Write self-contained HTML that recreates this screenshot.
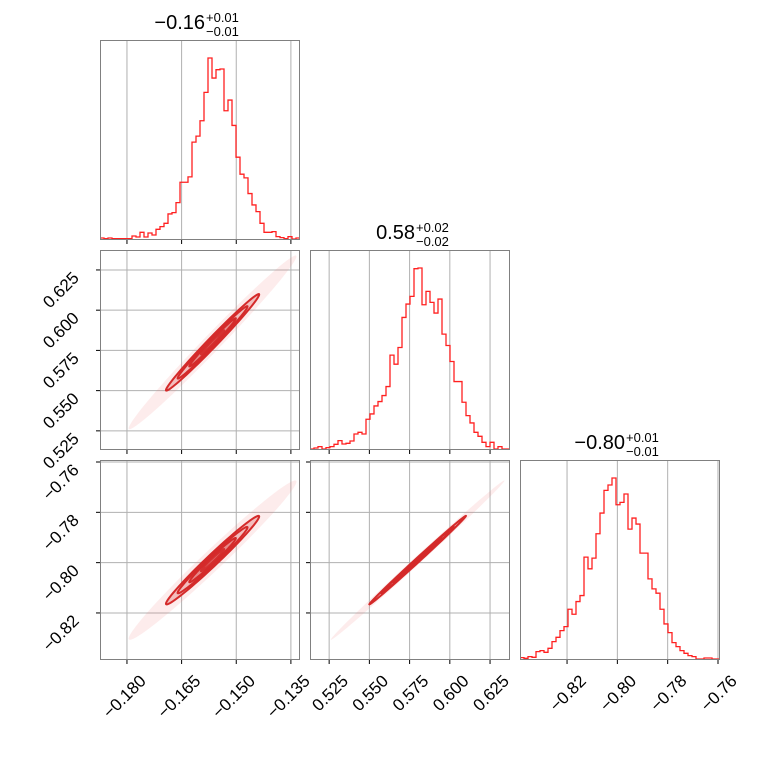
<!DOCTYPE html>
<html><head><meta charset="utf-8">
<style>
html,body{margin:0;padding:0;background:#fff;}
svg{display:block;font-family:"Liberation Sans","DejaVu Sans",sans-serif;}
</style></head>
<body>
<svg id="chart" width="760" height="760" viewBox="0 0 760 760" xmlns="http://www.w3.org/2000/svg"></svg>
<script>
// ---- data ----
const hist1Counts = [3,1,3,1,1,1,1,1,9,6,20,6,18,12,29,37,47,75,79,109,170,170,186,290,308,354,439,542,482,507,509,384,416,340,245,194,183,136,102,82,47,20,20,22,7,4,1,7,0,3];
const hist2Counts = [0,3,7,0,4,7,14,25,15,17,24,45,50,45,89,105,129,142,160,187,281,254,304,394,434,457,540,542,432,472,439,407,449,344,310,262,202,202,140,100,78,50,38,20,7,20,0,7,0,0];
const hist3Counts = [4,2,7,5,22,25,20,32,52,65,85,97,149,134,172,190,305,270,302,375,437,505,521,542,462,469,494,389,422,404,317,317,240,210,197,149,105,79,49,37,25,17,10,7,0,0,3,3,0,0];
const xRange1 = [-0.1874, -0.1325];
const xRange2 = [0.5131, 0.6374];
const xRange3 = [-0.8387, -0.7592];
const ticks1 = [-0.180, -0.165, -0.150, -0.135];
const ticks2 = [0.525, 0.550, 0.575, 0.600, 0.625];
const ticks3 = [-0.82, -0.80, -0.78, -0.76];
const tickLabels1 = ["\u22120.180","\u22120.165","\u22120.150","\u22120.135"];
const tickLabels2 = ["0.525","0.550","0.575","0.600","0.625"];
const tickLabels3 = ["\u22120.82","\u22120.80","\u22120.78","\u22120.76"];
const titleMedians = ["\u22120.16","0.58","\u22120.80"];
const titlePlus = ["+0.01","+0.02","+0.01"];
const titleMinus = ["\u22120.01","\u22120.02","\u22120.01"];
// 2D summary: means, std devs, correlations
const means = [-0.1565, 0.5800, -0.7990];
const stds = [0.0064, 0.0150, 0.0088];
const corr12 = 0.990, corr13 = 0.985, corr23 = 0.998;
const contourLevels = [0.5, 1.0, 1.5, 2.0];
// ---- layout ----
const NS="http://www.w3.org/2000/svg";
const svg=document.getElementById('chart');
const colX=[100,310,520], rowY=[40,250,460], S=200;
const ranges=[xRange1,xRange2,xRange3];
const ticks=[ticks1,ticks2,ticks3];
const tlabels=[tickLabels1,tickLabels2,tickLabels3];
const hists=[hist1Counts,hist2Counts,hist3Counts];
function sx(i,v){const r=ranges[i];return colX[i]+(v-r[0])/(r[1]-r[0])*S;}
function sy(j,v){const r=ranges[j];return rowY[j]+S-(v-r[0])/(r[1]-r[0])*S;}
function el(tag,attrs,parent){const e=document.createElementNS(NS,tag);for(const k in attrs)e.setAttribute(k,attrs[k]);(parent||svg).appendChild(e);return e;}

function panelGrid(g,i,j,isHist){
  ticks[i].forEach(t=>{const x=sx(i,t);if(x<colX[i]||x>colX[i]+S)return;
    const l=el('line',{x1:x,x2:x,y1:rowY[j],y2:rowY[j]+S,stroke:'#b0b0b0','stroke-width':1},g);
    
    
    const tk=el('line',{x1:x,x2:x,y1:rowY[j]+S,y2:rowY[j]+S+4,stroke:'#000','stroke-width':1},g);
    
    
  });
  if(!isHist){
    ticks[j].forEach(t=>{const y=sy(j,t);if(y<rowY[j]||y>rowY[j]+S)return;
      const l=el('line',{x1:colX[i],x2:colX[i]+S,y1:y,y2:y,stroke:'#b0b0b0','stroke-width':1},g);
      
      
      const tk=el('line',{x1:colX[i]-4,x2:colX[i],y1:y,y2:y,stroke:'#000','stroke-width':1},g);
      
      
    });
  }
}
function frame(g,i,j){
  const r=el('rect',{x:colX[i]+0.5,y:rowY[j]+0.5,width:S-1,height:S-1,fill:'none',stroke:'#808080','stroke-width':1},g);
  
  
}
for(let i=0;i<3;i++){
  const g=el('g',{});
  
  
  panelGrid(g,i,i,true);
  const c=hists[i], n=c.length, mx=Math.max(...c);
  const base=rowY[i]+S-1, top=rowY[i]+18;
  const r=ranges[i];
  let d='';
  for(let k=0;k<n;k++){
    const x0=sx(i,r[0]+(r[1]-r[0])*k/n), x1=sx(i,r[0]+(r[1]-r[0])*(k+1)/n);
    const y=base-(c[k]/mx)*(base-top);
    d+=(k===0?'M':'L')+x0.toFixed(2)+','+y.toFixed(2)+'L'+x1.toFixed(2)+','+y.toFixed(2);
  }
  const p=el('path',{d:d,fill:'none',stroke:'#ff2020','stroke-width':1.3},g);
  
  
  frame(g,i,i);
  const cx=colX[i]+S/2;
  const t=el('text',{x:cx+5,y:rowY[i]-11,'text-anchor':'end','font-size':20,fill:'#000'},g);
  
  
  t.textContent=titleMedians[i];
  const tp=el('text',{x:cx+6,y:rowY[i]-18,'font-size':13,fill:'#000'},g);
  
  
  tp.textContent=titlePlus[i];
  const tm=el('text',{x:cx+6,y:rowY[i]-4,'font-size':13,fill:'#000'},g);
  
  
  tm.textContent=titleMinus[i];
}
function ellipsePath(i,j,rho,k){
  let d='';
  for(let a=0;a<=90;a++){
    const th=a/90*2*Math.PI, u=Math.cos(th), w=Math.sin(th);
    const vx=means[i]+k*stds[i]*u;
    const vy=means[j]+k*stds[j]*(rho*u+Math.sqrt(1-rho*rho)*w);
    d+=(a===0?'M':'L')+sx(i,vx).toFixed(2)+','+sy(j,vy).toFixed(2);
  }
  return d+'Z';
}
function panel2d(i,j,rho){
  const g=el('g',{});
  
  
  panelGrid(g,i,j,false);
  const cp=el('clipPath',{id:'cp'+i+j},g);
  el('rect',{x:colX[i],y:rowY[j],width:S,height:S},cp);
  const inner=el('g',{'clip-path':'url(#cp'+i+j+')'},g);
  const cloud=el('path',{d:ellipsePath(i,j,rho,3.6),fill:'#f08080','fill-opacity':0.15,stroke:'none'},inner);
  
  
  const fill=el('path',{d:ellipsePath(i,j,rho,2.0),fill:'#f2b8b8','fill-opacity':0.9,stroke:'none'},inner);
  
  
  contourLevels.forEach((lv,idx)=>{
    const c=el('path',{d:ellipsePath(i,j,rho,lv),fill:idx<2?'#d63a3a':'none','fill-opacity':idx<2?0.4:0,stroke:'#d42a2a','stroke-width':2},inner);
    
    
  });
  frame(g,i,j);
}
panel2d(0,1,corr12);
panel2d(0,2,corr13);
panel2d(1,2,corr23);
for(let i=0;i<3;i++){
  ticks[i].forEach((t,k)=>{
    const x=sx(i,t)+20, y=682;
    const tx=el('text',{x:x,y:y,'text-anchor':'end','font-size':17,fill:'#000',transform:'rotate(-45 '+x+' '+y+')'});
    
    
    tx.textContent=tlabels[i][k];
  });
}
[1,2].forEach(j=>{
  ticks[j].forEach((t,k)=>{
    const yy=sy(j,t); if(yy<rowY[j]-2||yy>rowY[j]+S+2)return;
    const x=80, y=yy+9;
    const tx=el('text',{x:x,y:y,'text-anchor':'end','font-size':17,fill:'#000',transform:'rotate(-45 '+x+' '+y+')'});
    
    
    tx.textContent=tlabels[j][k];
  });
});
</script>
</body></html>
